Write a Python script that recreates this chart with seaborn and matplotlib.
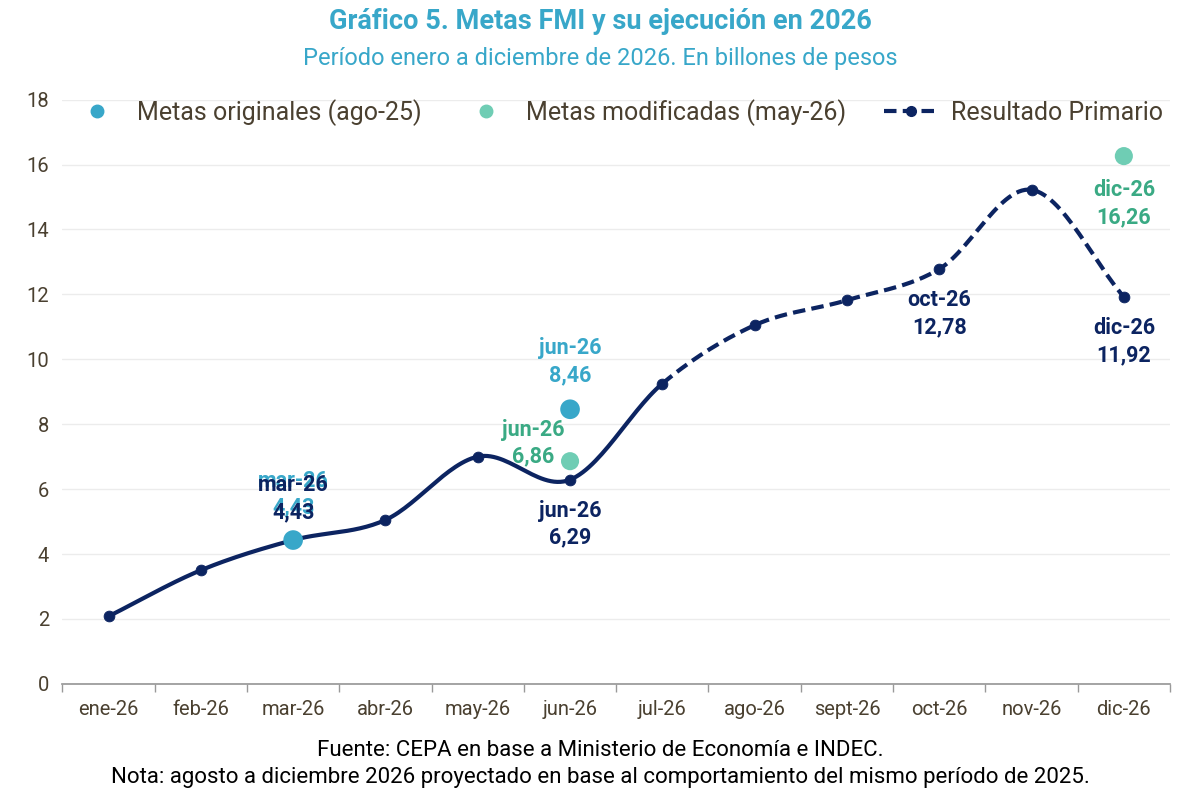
import numpy as np
import matplotlib
matplotlib.use("Agg")
import matplotlib.pyplot as plt
import seaborn as sns
from matplotlib.lines import Line2D

months = ["ene-26","feb-26","mar-26","abr-26","may-26","jun-26","jul-26","ago-26","sept-26","oct-26","nov-26","dic-26"]
resultado = [2.08, 3.50, 4.43, 5.05, 7.00, 6.29, 9.25, 11.05, 11.82, 12.78, 15.22, 11.92]
orig_idx = [2, 5]
orig_val = [4.43, 8.46]
mod_idx = [5, 11]
mod_val = [6.86, 16.26]

sns.set_theme(style="white")
plt.rcParams['font.family'] = ['Roboto', 'DejaVu Sans']

C_ORIG = "#38a7c9"
C_MOD = "#6fcdb4"
C_MOD_T = "#3aaa84"
C_RES = "#0c2461"
TXT = "#4a4030"

def catmull(xs, ys, n=30):
    xs = np.asarray(xs, float); ys = np.asarray(ys, float)
    px = np.concatenate([[2*xs[0]-xs[1]], xs, [2*xs[-1]-xs[-2]]])
    py = np.concatenate([[2*ys[0]-ys[1]], ys, [2*ys[-1]-ys[-2]]])
    ox, oy = [], []
    for i in range(1, len(px)-2):
        t = np.linspace(0, 1, n)
        for p, o in ((px, ox), (py, oy)):
            p0, p1, p2, p3 = p[i-1], p[i], p[i+1], p[i+2]
            o.extend(0.5*((2*p1) + (-p0+p2)*t + (2*p0-5*p1+4*p2-p3)*t**2 + (-p0+3*p1-3*p2+p3)*t**3))
    return np.array(ox), np.array(oy)

fig, ax = plt.subplots(figsize=(12, 7.97), dpi=100)
fig.subplots_adjust(left=0.052, right=0.975, top=0.875, bottom=0.142)

x = np.arange(len(months))
sx, sy = catmull(x, resultado)
solid = sx <= 6
ax.plot(sx[solid], sy[solid], color=C_RES, lw=3, zorder=2)
ax.plot(sx[sx >= 6], sy[sx >= 6], color=C_RES, lw=3, ls=(0, (3, 1.5)), zorder=2)
sns.scatterplot(x=x, y=resultado, color=C_RES, s=60, ax=ax, zorder=3, edgecolor=C_RES, legend=False)
sns.scatterplot(x=orig_idx, y=orig_val, color=C_ORIG, s=200, ax=ax, zorder=4, edgecolor="none", legend=False)
sns.scatterplot(x=mod_idx, y=mod_val, color=C_MOD, s=170, ax=ax, zorder=4, edgecolor="none", legend=False)

fs = 15.5
def lab(xi, yi, text, color, dy):
    ax.annotate(text, (xi, yi), xytext=(0, dy), textcoords="offset points",
                ha="center", va="center", color=color, fontsize=fs, fontweight="bold", linespacing=1.3)

lab(2, 4.43, "mar-26\n4,43", C_ORIG, 33)
lab(2, 4.43, "mar-26\n4,43", C_RES, 30)
lab(5, 8.46, "jun-26\n8,46", C_ORIG, 34)
lab(4.6, 6.86, "jun-26\n6,86", C_MOD_T, 13)
lab(5, 6.29, "jun-26\n6,29", C_RES, -32)
lab(9, 12.78, "oct-26\n12,78", C_RES, -32)
lab(11, 11.92, "dic-26\n11,92", C_RES, -32)
lab(11, 16.26, "dic-26\n16,26", C_MOD_T, -34)

ax.set_xlim(-0.5, 11.5)
ax.set_ylim(0, 18)
ax.set_yticks(range(0, 19, 2))
ax.set_xticks(x)
ax.set_xticklabels(months)
ax.set_xticks(np.arange(-0.5, 12, 1), minor=True)
ax.tick_params(axis="x", which="minor", length=6, color="#999999", width=1, bottom=True)
ax.tick_params(axis="x", which="major", length=0, pad=12)
ax.tick_params(labelsize=14.5, labelcolor=TXT)
ax.yaxis.grid(True, color="#ececec", lw=1)
for s in ["top", "right", "left"]:
    ax.spines[s].set_visible(False)
ax.spines["bottom"].set_color("#999999")
ax.set_xlabel(""); ax.set_ylabel("")

handles = [
    Line2D([], [], ls="none", marker="o", color=C_ORIG, markersize=9),
    Line2D([], [], ls="none", marker="o", color=C_MOD, markersize=9),
    Line2D([], [], ls=(0, (3, 1.5)), lw=3, marker="o", color=C_RES, markersize=7),
]
ax.legend(handles, ["Metas originales (ago-25)", "Metas modificadas (may-26)", "Resultado Primario"],
          loc="upper center", bbox_to_anchor=(0.5, 1.04), ncol=3, frameon=False,
          fontsize=18, labelcolor=TXT, columnspacing=1.5, handlelength=2.2, handletextpad=0.5)

fig.text(0.5, 0.973, "Gráfico 5. Metas FMI y su ejecución en 2026", ha="center", va="center",
         color=C_ORIG, fontsize=19.5, fontweight="bold")
fig.text(0.5, 0.927, "Período enero a diciembre de 2026. En billones de pesos", ha="center", va="center",
         color=C_ORIG, fontsize=17)
fig.text(0.5, 0.058, "Fuente: CEPA en base a Ministerio de Economía e INDEC.", ha="center", va="center",
         color="black", fontsize=16)
fig.text(0.5, 0.025, "Nota: agosto a diciembre 2026 proyectado en base al comportamiento del mismo período de 2025.",
         ha="center", va="center", color="black", fontsize=16)

fig.savefig("out.png", dpi=100, facecolor="white")
